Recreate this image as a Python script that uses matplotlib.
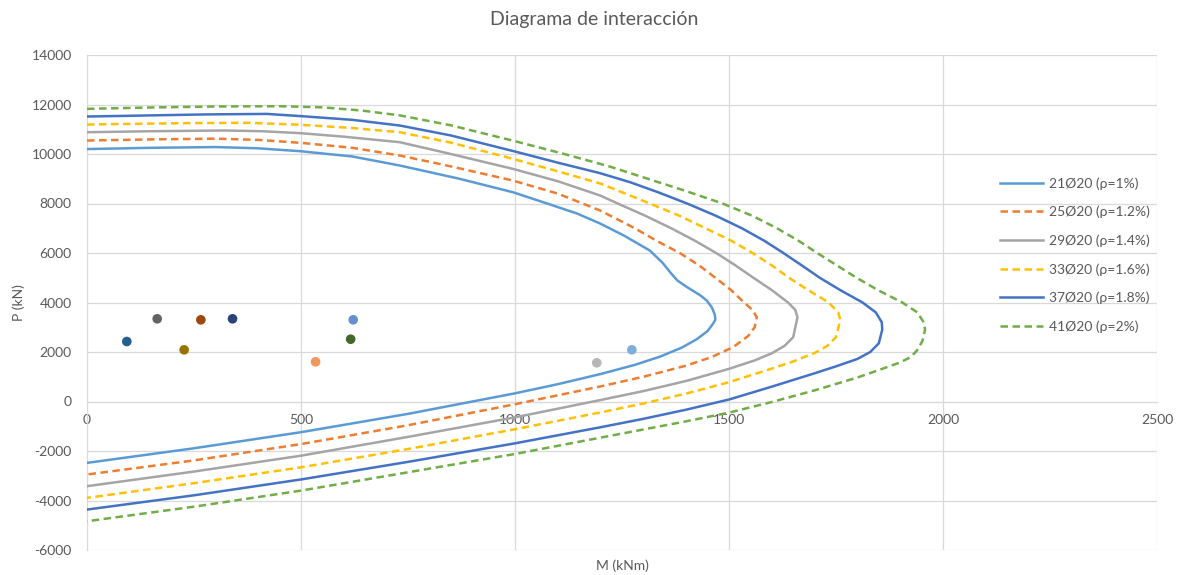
import matplotlib
matplotlib.use("Agg")
import matplotlib.pyplot as plt

plt.rcParams['font.family'] = ['Lato', 'DejaVu Sans']
plt.rcParams['axes.unicode_minus'] = False

# Interaction curves: M (kNm) vs P (kN), going from pure compression,
# round the balanced point and back to pure tension
m_21 = [0, 150, 300, 400, 500, 620, 731, 870, 995, 1075, 1145, 1199, 1255, 1315, 1345,
        1365, 1380, 1402, 1432, 1448, 1460, 1467, 1468,
        1463, 1450, 1425, 1390, 1340, 1280, 1200, 1100, 1000, 750, 500, 250, 0]
p_21 = [10200, 10250, 10280, 10230, 10110, 9900, 9534, 9000, 8456, 8000, 7595, 7190,
        6700, 6100, 5600, 5170, 4880, 4620, 4300, 4080, 3800, 3500, 3300,
        3150, 2850, 2520, 2180, 1820, 1480, 1110, 700, 330, -500, -1240, -1890, -2480]

m_25 = [0, 150, 300, 400, 500, 620, 731, 850, 995, 1100, 1199, 1245, 1280, 1330, 1385,
        1430, 1468, 1505, 1535, 1555, 1565,
        1560, 1545, 1510, 1460, 1400, 1300, 1200, 1000, 750, 500, 250, 0]
p_25 = [10544, 10590, 10620, 10570, 10450, 10250, 9938, 9500, 8928, 8400, 7716, 7310,
        7000, 6500, 6000, 5500, 5000, 4500, 4000, 3700, 3400,
        3000, 2650, 2200, 1800, 1450, 1000, 610, -110, -960, -1720, -2380, -2950]

m_29 = [0, 150, 320, 410, 500, 600, 731, 850, 995, 1100, 1199, 1240, 1305, 1365, 1420,
        1470, 1515, 1557, 1600, 1638, 1655, 1660,
        1650, 1630, 1600, 1560, 1500, 1400, 1300, 1200, 1000, 750, 500, 250, 0]
p_29 = [10880, 10920, 10950, 10920, 10840, 10700, 10476, 10000, 9400, 8900, 8322, 8000,
        7500, 7000, 6500, 6000, 5500, 5000, 4500, 4000, 3700, 3400,
        2600, 2250, 1950, 1660, 1320, 830, 420, 60, -640, -1430, -2190, -2830, -3422]

m_33 = [0, 150, 250, 380, 500, 620, 731, 850, 995, 1100, 1199, 1315, 1385, 1445, 1505,
        1555, 1600, 1640, 1685, 1733, 1755, 1760,
        1750, 1730, 1700, 1650, 1600, 1500, 1400, 1300, 1200, 1000, 750, 500, 250, 0]
p_33 = [11191, 11230, 11250, 11260, 11180, 11050, 10880, 10460, 9805, 9300, 8810, 8000,
        7500, 7000, 6500, 6000, 5500, 5000, 4500, 4000, 3600, 3300,
        2600, 2250, 1960, 1620, 1330, 780, 320, -80, -440, -1120, -1920, -2660, -3300,
        -3894]

m_37 = [0, 150, 280, 420, 500, 620, 731, 850, 1000, 1100, 1199, 1269, 1335, 1402, 1470,
        1530, 1582, 1627, 1670, 1712, 1760, 1812, 1843, 1857, 1858,
        1850, 1830, 1800, 1750, 1700, 1600, 1500, 1400, 1300, 1200, 1000, 750, 500,
        250, 0]
p_37 = [11514, 11560, 11600, 11620, 11530, 11380, 11150, 10750, 10100, 9650, 9224, 8860,
        8450, 8000, 7500, 7000, 6500, 6000, 5500, 5000, 4500, 4000, 3600, 3200, 2900,
        2350, 2000, 1720, 1420, 1140, 600, 80, -330, -700, -1040, -1690, -2440, -3150,
        -3790, -4366]

m_41 = [0, 150, 300, 450, 550, 640, 731, 850, 995, 1115, 1220, 1310, 1400, 1485,
        1555, 1612, 1662, 1706, 1752, 1798, 1848, 1905, 1940, 1955, 1958,
        1952, 1940, 1925, 1900, 1850, 1800, 1700, 1600, 1500, 1400, 1300, 1200, 1000,
        750, 500, 250, 0]
p_41 = [11825, 11880, 11920, 11930, 11885, 11760, 11560, 11160, 10540, 10000, 9500,
        9000, 8500, 8000, 7500, 7000, 6500, 6000, 5500, 5000, 4500, 4000, 3600, 3200,
        2900,
        2450, 2080, 1800, 1580, 1270, 970, 450, -20, -450, -800, -1130, -1460, -2120,
        -2860, -3600, -4250, -4838]

curves = [
    ("21Ø20 (ρ=1%)", m_21, p_21, "#5B9BD5", "-"),
    ("25Ø20 (ρ=1.2%)", m_25, p_25, "#ED7D31", "--"),
    ("29Ø20 (ρ=1.4%)", m_29, p_29, "#A5A5A5", "-"),
    ("33Ø20 (ρ=1.6%)", m_33, p_33, "#FFC000", "--"),
    ("37Ø20 (ρ=1.8%)", m_37, p_37, "#4472C4", "-"),
    ("41Ø20 (ρ=2%)", m_41, p_41, "#70AD47", "--"),
]

# Column load cases (M, P)
load_m = [93, 164, 266, 340, 227, 622, 616, 534, 1191, 1273]
load_p = [2424, 3341, 3300, 3341, 2088, 3300, 2517, 1604, 1563, 2088]
load_colors = ["#255E91", "#636363", "#9E480E", "#264478", "#997300",
               "#698ED0", "#43682B", "#F1975A", "#B7B7B7", "#7CAFDD"]

fig = plt.figure(figsize=(11.89, 5.75), dpi=100)
ax = fig.add_axes([87 / 1189, 25 / 575, 1070 / 1189, 495 / 575])

for label, m, p, color, ls in curves:
    line, = ax.plot(m, p, color=color, lw=1.8, ls=ls, label=label,
                    solid_joinstyle="round", zorder=3)
    if ls == "--":
        line.set_dashes((3.0, 1.8))

for m, p, c in zip(load_m, load_p, load_colors):
    ax.scatter(m, p, s=48, color=c, edgecolors="none", zorder=4)

ax.set_xlim(0, 2500)
ax.set_ylim(-6000, 14000)
ax.set_xticks(range(0, 2501, 500))
ax.set_yticks(range(-6000, 14001, 2000))
ax.grid(True, color="#D9D9D9", lw=0.9, zorder=0)
ax.set_axisbelow(True)

for side in ["top", "right"]:
    ax.spines[side].set_visible(False)
ax.spines["left"].set_color("#D9D9D9")
ax.spines["bottom"].set_color("#D9D9D9")
ax.spines["bottom"].set_position(("data", 0))
ax.tick_params(length=0, labelsize=10, labelcolor="#595959")
ax.tick_params(axis="y", pad=11)
ax.tick_params(axis="x", pad=9)

ax.set_xlabel("M (kNm)", fontsize=10, color="#595959")
ax.xaxis.set_label_coords(0.5, -0.02)
ax.set_ylabel("P (kN)", fontsize=10, color="#595959")
ax.yaxis.set_label_coords(-0.058, 0.5)

fig.text(0.5, 1 - 20 / 575, "Diagrama de interacción", ha="center", va="center",
         fontsize=14, color="#595959")

leg = ax.legend(loc="upper left", bbox_to_anchor=(1000 / 1189, 1 - 177 / 575),
                bbox_transform=fig.transFigure, frameon=False, fontsize=10,
                handlelength=3.1, handletextpad=0.45, labelspacing=1.16,
                borderpad=0, borderaxespad=0)
for t in leg.get_texts():
    t.set_color("#595959")

fig.savefig("out.png", dpi=100)
